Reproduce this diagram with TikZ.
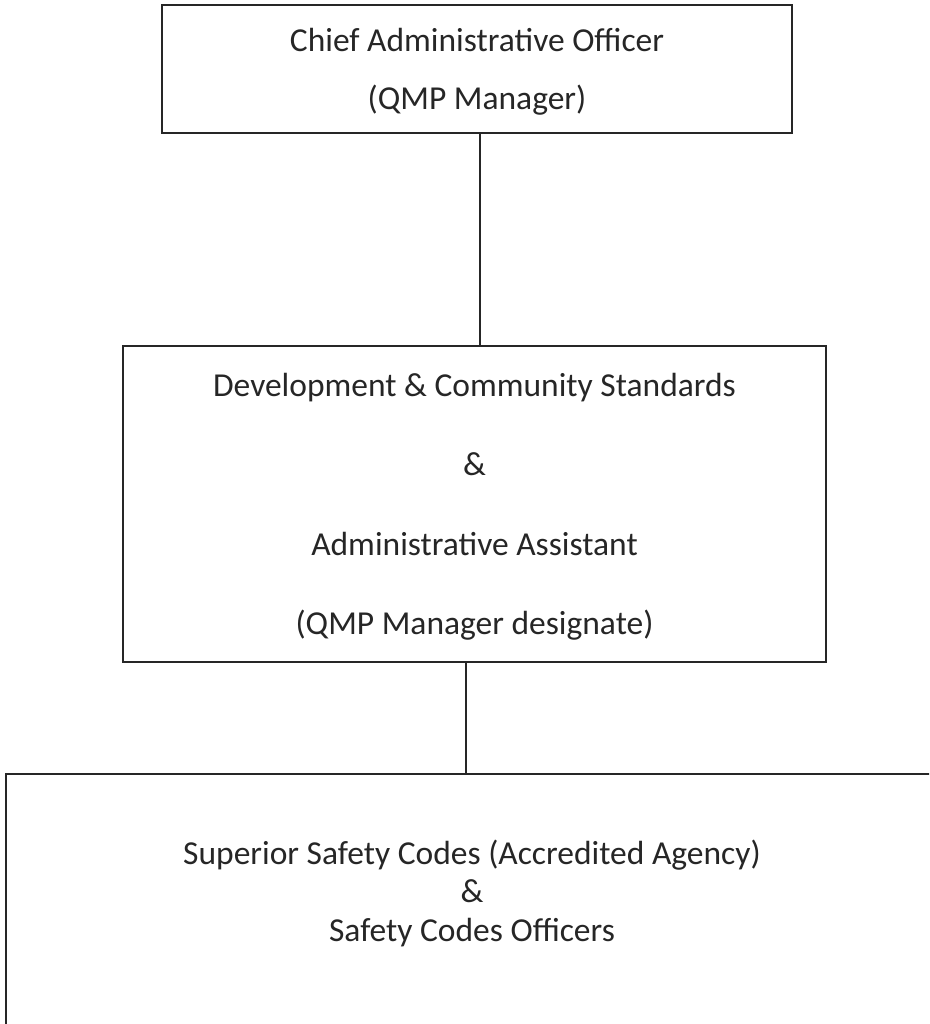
\documentclass[tikz,border=0pt]{standalone}
\usepackage{fontspec}
\setmainfont{Carlito}
\begin{document}
\begin{tikzpicture}[x=1pt,y=-1pt,
  orgbox/.style={draw=black!85, line width=1.9pt, inner sep=0pt, align=center, text=black!85},
  link/.style={draw=black!85, line width=1.7pt}]
\useasboundingbox (0,0) rectangle (929,1024);
\clip (0,0) rectangle (929,1024);

% top: chief administrative officer
\node[orgbox, minimum width=630pt, minimum height=128pt, text depth=0pt,
      font=\fontsize{33.5}{58}\selectfont] (cao) at (477,69)
  {Chief Administrative Officer\\(QMP Manager)};

% middle: development & community standards
\node[orgbox, minimum width=703pt, minimum height=316pt, text depth=0pt,
      font=\fontsize{33.5}{79.5}\selectfont] (dcs) at (474.5,504)
  {Development \& Community Standards\\\&\\Administrative Assistant\\(QMP Manager designate)};

% bottom: accredited agency, running past the page edge
\node[orgbox, anchor=north west, minimum width=932pt, inner ysep=66pt,
      text depth=200pt, font=\fontsize{33.5}{38.5}\selectfont] (ssc) at (5,773)
  {Superior Safety Codes (Accredited Agency)\\\&\\Safety Codes Officers};

% reporting lines
\draw[link] ([xshift=3pt]cao.south) -- ([xshift=3pt]cao.south |- dcs.north);
\draw[link] ([xshift=-8.5pt]dcs.south) -- ([xshift=-8.5pt]dcs.south |- ssc.north);
\end{tikzpicture}
\end{document}
